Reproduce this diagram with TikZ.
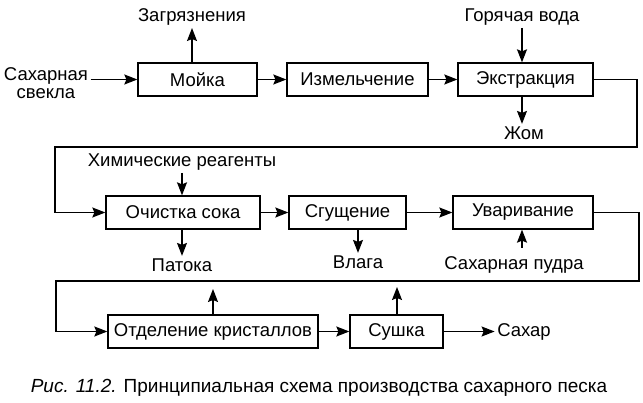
\documentclass[tikz,border=0pt]{standalone}
\usepackage{fontspec}
\setmainfont{Liberation Sans}
\usetikzlibrary{arrows.meta, positioning}

\begin{document}
\begin{tikzpicture}[x=1pt, y=-1pt, line width=1.3pt,
    font=\fontsize{18.5}{21}\selectfont,
    stage/.style={draw, minimum height=33pt, inner sep=0pt},
    flow/.style={-{Stealth[length=13pt, width=10pt, inset=2pt]}},
    tag/.style={inner sep=2pt}]
    \useasboundingbox (0, 0) rectangle (643, 403);

    \node[stage, minimum width=119pt] (moika)  at (197.5, 79.5) {Мойка};
    \node[stage, minimum width=141pt] (izmel)  at (357.5, 79.5) {Измельчение};
    \node[stage, minimum width=135pt] (ekstr)  at (525.5, 79.5) {Экстракция};
    \node[stage, minimum width=154pt] (ochist) at (183, 212.5) {Очистка сока};
    \node[stage, minimum width=117pt] (sgusch) at (347.5, 212.5) {Сгущение};
    \node[stage, minimum width=140pt] (uvar)   at (523, 212.5) {Уваривание};
    \node[stage, minimum width=210pt] (otdel)  at (213, 331.5) {Отделение кристаллов};
    \node[stage, minimum width=93pt]  (sushka) at (396.5, 331.5) {Сушка};

    \node[tag, align=center] (svekla) at (46, 83) {Сахарная\\[-3pt]свекла};
    \node[tag] (zagr)   at (192, 17)  {Загрязнения};
    \node[tag] (voda)   at (522, 17)  {Горячая вода};
    \node[tag] (zhom)   at (524, 133) {Жом};
    \node[tag] (reag)   at (182, 162) {Химические реагенты};
    \node[tag] (patoka) at (182, 265) {Патока};
    \node[tag] (vlaga)  at (358, 262) {Влага};
    \node[tag] (pudra)  at (514, 265) {Сахарная пудра};
    \node[tag] (sahar)  at (524, 331.5) {Сахар};
    \node[font=\fontsize{19}{22}\selectfont] (caption) at (319, 388)
        {\textit{Рис. 11.2.} Принципиальная схема производства сахарного песка};

    \coordinate (ret1) at (637, 147);
    \coordinate (ret2) at (55, 212.5);
    \coordinate (ret3) at (639, 281);
    \coordinate (ret4) at (56, 331.5);
    \coordinate (out1) at (213, 289);
    \coordinate (out2) at (397, 287);
    \coordinate (inp1) at (522, 248);

    \draw[flow] (svekla.east |- moika.west) -- (moika.west);
    \draw[flow] (moika.north -| zagr.south) -- (zagr.south);
    \draw[flow] (moika) -- (izmel);
    \draw[flow] (izmel) -- (ekstr);
    \draw[flow] (voda.south) -- (voda.south |- ekstr.north);
    \draw[flow] (ekstr.south -| voda) -- (zhom.north -| voda);
    \draw[flow] (ekstr.east) -| (ret1) -| (ret2) -- (ochist.west);

    \draw[flow] (reag.south) -- (reag.south |- ochist.north);
    \draw[flow] (ochist.south -| patoka) -- (patoka.north);
    \draw[flow] (ochist) -- (sgusch);
    \draw[flow] (sgusch.south -| vlaga) -- (vlaga.north);
    \draw[flow] (sgusch) -- (uvar);
    \draw[flow] (inp1) -- (inp1 |- uvar.south);
    \draw[flow] (uvar.east) -| (ret3) -| (ret4) -- (otdel.west);

    \draw[flow] (otdel.north -| out1) -- (out1);
    \draw[flow] (otdel) -- (sushka);
    \draw[flow] (sushka.north -| out2) -- (out2);
    \draw[flow] (sushka) -- (sahar);
\end{tikzpicture}
\end{document}
